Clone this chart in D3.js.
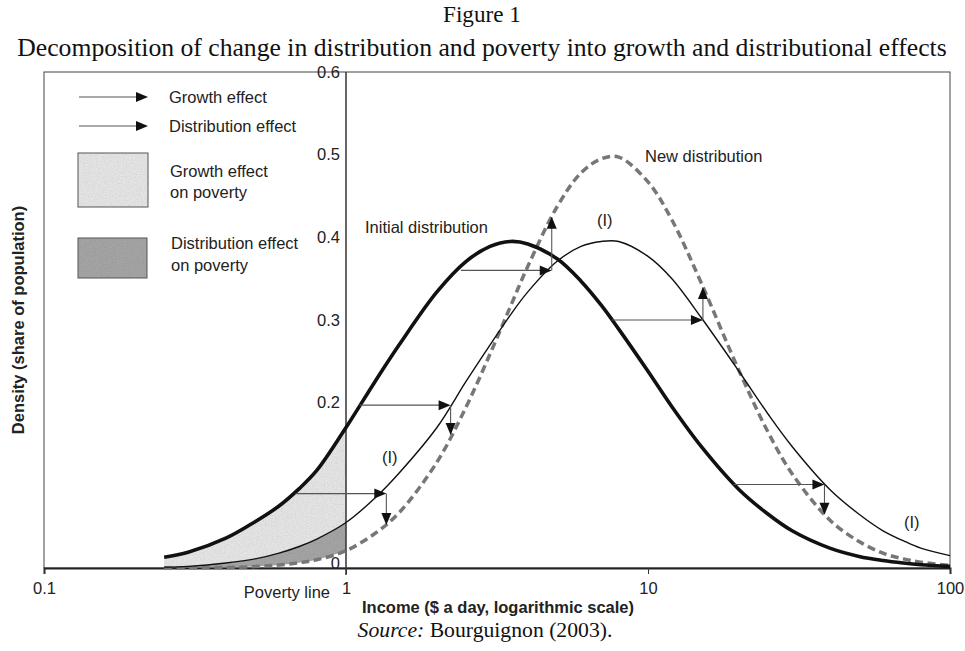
<!DOCTYPE html>
<html>
<head>
<meta charset="utf-8">
<title>Figure 1</title>
<style>
body { margin: 0; background: #fff; }
</style>
</head>
<body>
<svg width="965" height="651" font-family="Liberation Sans, Arial, sans-serif"></svg>
<script src="https://d3js.org/d3.v7.min.js"></script>
<script>

var income = [0.25, 0.3, 0.4, 0.5, 0.6, 0.7, 0.8, 1, 1.25, 1.5, 2, 2.5, 3, 3.5, 4,
              5, 6, 7, 8, 10, 12, 15, 20, 25, 30, 40, 50, 60, 70, 80, 100];
var initialDist = [0.013, 0.019, 0.036, 0.056, 0.075, 0.096, 0.118, 0.170, 0.226, 0.270,
                   0.334, 0.371, 0.389, 0.395, 0.392, 0.374, 0.347, 0.318, 0.289, 0.238,
                   0.195, 0.147, 0.095, 0.065, 0.045, 0.024, 0.014, 0.009, 0.006, 0.004, 0.002];
var growthDist = [0.001, 0.002, 0.006, 0.011, 0.018, 0.026, 0.035, 0.055, 0.085, 0.115,
                  0.170, 0.226, 0.270, 0.306, 0.334, 0.371, 0.389, 0.395, 0.395, 0.377,
                  0.350, 0.303, 0.238, 0.186, 0.147, 0.095, 0.065, 0.045, 0.033, 0.024, 0.015];
var newDist = [0.0001, 0.0002, 0.0007, 0.0017, 0.0036, 0.0064, 0.010, 0.021, 0.042, 0.067,
               0.128, 0.195, 0.259, 0.316, 0.365, 0.437, 0.478, 0.495, 0.497, 0.467,
               0.421, 0.345, 0.239, 0.164, 0.114, 0.058, 0.032, 0.018, 0.011, 0.007, 0.003];

// growth arrows (horizontal) then distribution arrows (vertical)
var arrowDensity = [0.090, 0.197, 0.360, 0.300, 0.101];
var arrowFrom = [0.68, 1.11, 2.4, 7.6, 19.2];
var arrowTo = [1.36, 2.22, 4.8, 15.2, 38.4];
var arrowNew = [0.052, 0.161, 0.425, 0.340, 0.0645];

var povertyLine = 1;
var xTicks = [0.1, 1, 10, 100];
var yTicks = [0, 0.2, 0.3, 0.4, 0.5, 0.6];

var svg = d3.select("svg");
var fs = 16.5;

var x = d3.scaleLog().domain([0.1, 100]).range([44, 950]);
var y = d3.scaleLinear().domain([0, 0.6]).range([568, 72]);

// speckled fill like the printed figure
var defs = svg.append("defs");
var f = defs.append("filter").attr("id", "grain")
    .attr("x", 0).attr("y", 0).attr("width", 1).attr("height", 1);
f.append("feTurbulence").attr("type", "fractalNoise").attr("baseFrequency", 0.9)
    .attr("numOctaves", 2).attr("seed", 3).attr("result", "noise");
f.append("feColorMatrix").attr("in", "noise").attr("type", "saturate").attr("values", 0).attr("result", "gray");
var ct = f.append("feComponentTransfer").attr("in", "gray").attr("result", "soft");
["feFuncR", "feFuncG", "feFuncB"].forEach(function(n) {
  ct.append(n).attr("type", "linear").attr("slope", 0.45).attr("intercept", 0.74);
});
ct.append("feFuncA").attr("type", "linear").attr("slope", 0).attr("intercept", 1);
f.append("feComposite").attr("in", "soft").attr("in2", "SourceGraphic").attr("operator", "in").attr("result", "clip");
f.append("feBlend").attr("in", "clip").attr("in2", "SourceGraphic").attr("mode", "multiply");

var pts = income.map(function(d, i) {
  return {inc: d, a: initialDist[i], b: growthDist[i], c: newDist[i]};
});
var poor = pts.filter(function(d) { return d.inc <= povertyLine; });

var curve = d3.curveCatmullRom;

// frame
svg.append("rect")
    .attr("x", 44).attr("y", 72).attr("width", 906).attr("height", 496)
    .attr("fill", "none").attr("stroke", "#444").attr("stroke-width", 1);

// shaded poverty effects
svg.append("path")
    .datum(poor)
    .attr("fill", "#e4e4e4")
    .attr("filter", "url(#grain)")
    .attr("d", d3.area().curve(curve)
        .x(function(d) { return x(d.inc); })
        .y0(function(d) { return y(d.b); })
        .y1(function(d) { return y(d.a); }));

svg.append("path")
    .datum(poor)
    .attr("fill", "#a4a4a4")
    .attr("filter", "url(#grain)")
    .attr("d", d3.area().curve(curve)
        .x(function(d) { return x(d.inc); })
        .y0(function(d) { return y(d.c); })
        .y1(function(d) { return y(d.b); }));

// axes
var gx = svg.append("g").attr("transform", "translate(0," + y(0) + ")")
    .call(d3.axisBottom(x).tickValues(xTicks).tickSize(6).tickPadding(8)
        .tickFormat(function(d) { return d < 1 ? "0.1" : String(d); }));
gx.attr("font-family", null).attr("font-size", fs);
gx.select(".domain").attr("stroke", "#222").attr("stroke-width", 2);
gx.selectAll(".tick line").attr("stroke", "#333");
gx.selectAll("text").attr("fill", "#222");

var gy = svg.append("g").attr("transform", "translate(" + x(povertyLine) + ",0)")
    .call(d3.axisLeft(y).tickValues(yTicks).tickSize(0).tickPadding(6)
        .tickFormat(function(d) { return d === 0 ? "0" : d3.format(".1f")(d); }));
gy.attr("font-family", null).attr("font-size", fs);
gy.select(".domain").remove();
gy.selectAll("text").attr("fill", "#222");
gy.selectAll(".tick").filter(function(d) { return d === 0; }).select("text").attr("dy", "0.05em");

svg.append("line")
    .attr("x1", x(povertyLine)).attr("x2", x(povertyLine))
    .attr("y1", y(0.6)).attr("y2", y(0) + 7)
    .attr("stroke", "#333").attr("stroke-width", 1.5);

// curves
function line(key) {
  return d3.line().curve(curve)
      .x(function(d) { return x(d.inc); })
      .y(function(d) { return y(d[key]); });
}

svg.append("path").datum(pts)
    .attr("fill", "none").attr("stroke", "#777").attr("stroke-width", 3.5)
    .attr("stroke-dasharray", "8,4.5")
    .attr("d", line("c"));

svg.append("path").datum(pts)
    .attr("fill", "none").attr("stroke", "#111").attr("stroke-width", 1.4)
    .attr("d", line("b"));

svg.append("path").datum(pts)
    .attr("fill", "none").attr("stroke", "#111").attr("stroke-width", 3.6)
    .attr("d", line("a"));

// arrows
function hArrow(x0, x1, yy) {
  svg.append("line").attr("x1", x0).attr("x2", x1 - 8).attr("y1", yy).attr("y2", yy)
      .attr("stroke", "#555").attr("stroke-width", 1.1);
  svg.append("path").attr("fill", "#111")
      .attr("d", "M" + x1 + "," + yy + "L" + (x1 - 12) + "," + (yy - 5) + "L" + (x1 - 12) + "," + (yy + 5) + "Z");
}
function vArrow(xx, y0, y1) {
  var s = y1 > y0 ? 1 : -1;
  svg.append("line").attr("x1", xx).attr("x2", xx).attr("y1", y0).attr("y2", y1 - s * 8)
      .attr("stroke", "#555").attr("stroke-width", 1.1);
  svg.append("path").attr("fill", "#111")
      .attr("d", "M" + xx + "," + y1 + "L" + (xx - 5) + "," + (y1 - s * 12) + "L" + (xx + 5) + "," + (y1 - s * 12) + "Z");
}

arrowDensity.forEach(function(d, i) {
  hArrow(x(arrowFrom[i]), x(arrowTo[i]), y(d));
  vArrow(x(arrowTo[i]), y(d), y(arrowNew[i]));
});

function label(tx, ty, s) {
  return svg.append("text").attr("x", tx).attr("y", ty)
      .attr("font-size", fs).attr("fill", "#222").text(s);
}

// legend
hArrow(79, 148, 97);
hArrow(79, 148, 126);
label(169, 103, "Growth effect");
label(169, 132, "Distribution effect");

svg.append("rect").attr("x", 78).attr("y", 153).attr("width", 70).attr("height", 54)
    .attr("fill", "#e4e4e4").attr("filter", "url(#grain)");
svg.append("rect").attr("x", 78).attr("y", 153).attr("width", 70).attr("height", 54)
    .attr("fill", "none").attr("stroke", "#555").attr("stroke-width", 1);
svg.append("rect").attr("x", 78).attr("y", 238).attr("width", 69).attr("height", 40)
    .attr("fill", "#a4a4a4").attr("filter", "url(#grain)");
svg.append("rect").attr("x", 78).attr("y", 238).attr("width", 69).attr("height", 40)
    .attr("fill", "none").attr("stroke", "#555").attr("stroke-width", 1);

label(170, 177, "Growth effect");
label(170, 198, "on poverty");
label(171, 249, "Distribution effect");
label(171, 271, "on poverty");

// curve labels
label(365, 233, "Initial distribution");
label(645, 162, "New distribution");
label(597, 226, "(I)");
label(382, 463, "(I)");
label(904, 528, "(I)");

// axis titles
label(330, 598, "Poverty line").attr("text-anchor", "end");
label(498, 613, "Income ($ a day, logarithmic scale)")
    .attr("font-weight", "bold").attr("text-anchor", "middle");
svg.append("text").attr("transform", "translate(24,320) rotate(-90)")
    .attr("font-size", fs).attr("font-weight", "bold").attr("text-anchor", "middle")
    .attr("fill", "#222")
    .text("Density (share of population)");

// titles (serif, as in the paper); sized to the printed widths
var serif = "Liberation Serif, Times New Roman, serif";
function fit(sel, width) {
  var w = sel.node().getComputedTextLength();
  sel.attr("font-size", 18 * width / w);
}
var t1 = svg.append("text").attr("x", 482).attr("y", 22).attr("font-size", 18)
    .attr("font-family", serif).attr("text-anchor", "middle").attr("fill", "#111").text("Figure 1");
fit(t1, 78);
var t2 = svg.append("text").attr("x", 482).attr("y", 56).attr("font-size", 18)
    .attr("font-family", serif).attr("text-anchor", "middle").attr("fill", "#111")
    .text("Decomposition of change in distribution and poverty into growth and distributional effects");
fit(t2, 930);

var src = svg.append("text").attr("x", 485).attr("y", 637).attr("font-size", 18)
    .attr("font-family", serif).attr("text-anchor", "middle").attr("fill", "#111");
src.append("tspan").attr("font-style", "italic").text("Source:");
src.append("tspan").text(" Bourguignon (2003).");
fit(src, 255);
</script>
</body>
</html>
